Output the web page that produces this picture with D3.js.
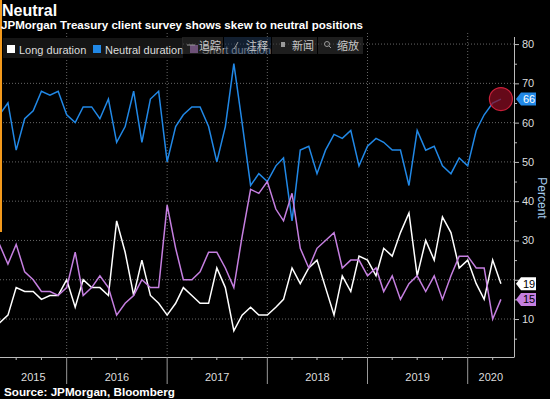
<!DOCTYPE html>
<html>
<head>
<meta charset="utf-8">
<script src="https://cdn.jsdelivr.net/npm/d3@7"></script>
<style>
  body { margin: 0; background: #000; }
  svg { display: block; }
</style>
</head>
<body>
<div id="chart"></div>
<script>
// monthly survey readings, May 2015 - May 2020 (percent)
var startMonth = new Date(2015, 4, 1);
var longDur = [9, 11, 18, 17, 17, 15, 16, 16, 20, 13, 20, 18, 18, 16, 35, 27, 16, 25, 16, 14, 11,
  14, 18, 16, 14, 14, 23, 18, 7, 11, 13, 11, 11, 13, 15, 23, 19, 23, 25, 18, 11, 21,
  17, 26, 25, 21, 28, 26, 32, 37, 21, 30, 25, 36, 32, 23, 25, 19, 15, 25, 19];
var neutralDur = [62, 65, 53, 61, 63, 68, 67, 68, 62, 60, 64, 64, 61, 66, 55, 59, 68, 55, 66, 68, 50,
  59, 62, 64, 64, 59, 50, 59, 75, 60, 44, 47, 45, 49, 51, 35, 53, 54, 47, 53, 57, 56,
  58, 49, 54, 56, 55, 53, 53, 44, 58, 53, 54, 49, 47, 51, 49, 58, 62, 65, 66];
var shortDur = [29, 24, 29, 22, 20, 17, 17, 16, 18, 27, 16, 18, 21, 18, 11, 14, 16, 20, 18, 18, 39,
  28, 20, 20, 22, 27, 27, 23, 18, 31, 43, 42, 45, 38, 35, 42, 28, 23, 28, 30, 32, 23,
  25, 25, 21, 23, 17, 21, 15, 19, 21, 17, 21, 15, 21, 26, 26, 23, 23, 10, 15];
var seriesNames = ['Long duration', 'Neutral duration', 'Short duration'];
var seriesColors = ['#ffffff', '#2188e6', '#c57fe0'];
var tagText = ['#000', '#fff', '#000'];
var yearLabels = ['2015', '2016', '2017', '2018', '2019', '2020'];
var yTicks = [10, 20, 30, 40, 50, 60, 70, 80];
var toolbarLabels = ['追踪', '注释', '新闻', '缩放'];

var W = 550, H = 399;
var plot = {left: 0, right: 514, top: 37, bottom: 357};
var font = "'Liberation Sans', Arial, sans-serif";

var svg = d3.select('#chart').append('svg')
  .attr('width', W).attr('height', H)
  .style('background', '#000');

var months = d3.range(longDur.length).map(function(i) { return d3.timeMonth.offset(startMonth, i); });

var x = d3.scaleTime()
  .domain([new Date(2015, 0, 1), new Date(2020, 0, 1)])
  .range([-33.5, 467.7]);
var y = d3.scaleLinear()
  .domain([0, 81.8])
  .range([358.3, plot.top]);

// gridlines
svg.append('g').selectAll('line.h')
  .data(yTicks).enter().append('line')
  .attr('x1', plot.left).attr('x2', plot.right)
  .attr('y1', function(d) { return y(d); }).attr('y2', function(d) { return y(d); })
  .attr('stroke', '#666').attr('stroke-dasharray', '1,2');

var yearStarts = yearLabels.slice(1).map(function(s) { return new Date(+s, 0, 1); });
svg.append('g').selectAll('line.v')
  .data(yearStarts).enter().append('line')
  .attr('x1', function(d) { return x(d); }).attr('x2', function(d) { return x(d); })
  .attr('y1', 33).attr('y2', plot.bottom)
  .attr('stroke', '#666').attr('stroke-dasharray', '1,2');

// lines
svg.append('clipPath').attr('id', 'clip')
  .append('rect').attr('x', 0).attr('y', 0).attr('width', plot.right).attr('height', plot.bottom);

var line = d3.line()
  .x(function(d, i) { return x(months[i]); })
  .y(function(d) { return y(d); });

var allSeries = [longDur, neutralDur, shortDur];
svg.append('g').attr('clip-path', 'url(#clip)')
  .selectAll('path').data(allSeries).enter().append('path')
  .attr('d', line)
  .attr('fill', 'none')
  .attr('stroke', function(d, i) { return seriesColors[i]; })
  .attr('stroke-width', 1.5);

// highlight circle on last neutral value
var lastI = months.length - 1;
svg.append('circle')
  .attr('cx', x(months[lastI])).attr('cy', y(neutralDur[lastI]))
  .attr('r', 11.5)
  .attr('fill', 'rgba(140,12,35,0.72)')
  .attr('stroke', '#c8203a').attr('stroke-width', 1.2);

// right axis (labels hidden where a value tag sits on them)
var tagYs = allSeries.map(function(s) { return y(s[lastI]); });
var yAxis = svg.append('g')
  .attr('transform', 'translate(' + plot.right + ',0)')
  .call(d3.axisRight(y).tickValues(yTicks).tickSize(5).tickPadding(3));
var yMinor = svg.append('g')
  .attr('transform', 'translate(' + plot.right + ',0)')
  .call(d3.axisRight(y).tickValues([5, 15, 25, 35, 45, 55, 65, 75]).tickSize(3).tickFormat(''));
[yAxis, yMinor].forEach(function(g) {
  g.select('.domain').attr('stroke', '#bbb').attr('d', 'M0.5,' + plot.top + 'V' + plot.bottom);
  g.selectAll('line').attr('stroke', '#bbb');
  g.selectAll('text').attr('fill', '#ddd').style('font-family', font).style('font-size', '11px');
});
yAxis.selectAll('.tick').filter(function(d) {
  return tagYs.some(function(t) { return Math.abs(t - y(d)) < 11; });
}).select('text').remove();

svg.append('text')
  .attr('transform', 'translate(538,198) rotate(90)')
  .attr('text-anchor', 'middle')
  .attr('fill', '#a6cdee')
  .style('font-family', font).style('font-size', '12px')
  .text('Percent');

// bottom axis
svg.append('line')
  .attr('x1', 0).attr('x2', plot.right + 0.5)
  .attr('y1', plot.bottom + 0.5).attr('y2', plot.bottom + 0.5)
  .attr('stroke', '#bbb');
var quarters = d3.timeMonth.every(3).range(new Date(2015, 0, 1), new Date(2020, 6, 1))
  .filter(function(d) { return d.getMonth() !== 0 && x(d) > 0 && x(d) < plot.right; });
svg.append('g').selectAll('line').data(quarters).enter().append('line')
  .attr('x1', function(d) { return x(d); }).attr('x2', function(d) { return x(d); })
  .attr('y1', plot.bottom).attr('y2', plot.bottom + 3)
  .attr('stroke', '#bbb');
svg.append('g').selectAll('line').data(yearStarts).enter().append('line')
  .attr('x1', function(d) { return x(d); }).attr('x2', function(d) { return x(d); })
  .attr('y1', plot.bottom).attr('y2', 384)
  .attr('stroke', '#999');
svg.append('g').selectAll('text').data(yearLabels).enter().append('text')
  .attr('x', function(d) {
    var a = Math.max(0, x(new Date(+d, 0, 1)));
    var b = Math.min(plot.right, x(new Date(+d + 1, 0, 1)));
    return (a + b) / 2;
  })
  .attr('y', 381)
  .attr('text-anchor', 'middle')
  .attr('fill', '#ddd')
  .style('font-family', font).style('font-size', '11px')
  .text(function(d) { return d; });

// last value tags
allSeries.forEach(function(s, i) {
  var v = s[lastI], yc = y(v), x0 = plot.right + 2;
  svg.append('path')
    .attr('d', 'M' + x0 + ',' + yc + 'L' + (x0 + 5) + ',' + (yc - 6.5) + 'H' + (x0 + 20) +
      'V' + (yc + 6.5) + 'H' + (x0 + 5) + 'Z')
    .attr('fill', seriesColors[i]);
  svg.append('text')
    .attr('x', x0 + 13).attr('y', yc + 4)
    .attr('text-anchor', 'middle')
    .attr('fill', tagText[i])
    .style('font-family', font).style('font-size', '11px')
    .text(v);
});

// orange edge marker
svg.append('rect').attr('x', 0).attr('y', 0).attr('width', 2).attr('height', 232).attr('fill', '#f39a1c');

// titles
svg.append('text').attr('x', 2).attr('y', 16)
  .attr('fill', '#fff').style('font-family', font).style('font-size', '16px').style('font-weight', 'bold')
  .text('Neutral');
svg.append('text').attr('x', 1).attr('y', 29)
  .attr('fill', '#fff').style('font-family', font).style('font-size', '11px').style('font-weight', 'bold')
  .attr('textLength', 362).attr('lengthAdjust', 'spacingAndGlyphs')
  .text('JPMorgan Treasury client survey shows skew to neutral positions');
svg.append('text').attr('x', 4).attr('y', 396)
  .attr('fill', '#fff').style('font-family', font).style('font-size', '11px').style('font-weight', 'bold')
  .attr('textLength', 171).attr('lengthAdjust', 'spacingAndGlyphs')
  .text('Source: JPMorgan, Bloomberg');

// legend
svg.append('rect').attr('x', 3).attr('y', 38).attr('width', 180).attr('height', 20).attr('fill', '#151515');
var legendX = [7, 93, 190];
seriesNames.forEach(function(n, i) {
  svg.append('rect').attr('x', legendX[i]).attr('y', 45).attr('width', 8).attr('height', 8)
    .attr('fill', seriesColors[i]);
  svg.append('text').attr('x', legendX[i] + 12).attr('y', 54)
    .attr('fill', '#ddd').style('font-family', font).style('font-size', '11px')
    .text(n);
});

// toolbar overlay (semi-transparent, legend shows through)
var tbX = [182, 224, 272, 318], tbW = [41, 47, 45, 45], tbTx = [199, 246, 292, 337];
toolbarLabels.forEach(function(t, i) {
  svg.append('rect').attr('x', tbX[i]).attr('y', 37).attr('width', tbW[i]).attr('height', 17)
    .attr('fill', i === 1 ? 'rgba(30,52,80,0.6)' : 'rgba(50,50,50,0.6)');
  svg.append('text').attr('x', tbX[i] + 1).attr('y', 50).text('')
  svg.append('text').attr('x', tbTx[i]).attr('y', 50)
    .attr('fill', '#c8c8c8')
    .style('font-family', "'Noto Sans CJK SC', sans-serif").style('font-size', '11px')
    .text(t);
});
svg.append('rect').attr('x', 281).attr('y', 42).attr('width', 4).attr('height', 5).attr('fill', '#999');
svg.append('circle').attr('cx', 327).attr('cy', 44).attr('r', 2.5).attr('fill', 'none').attr('stroke', '#999');
svg.append('line').attr('x1', 331).attr('y1', 48).attr('x2', 329).attr('y2', 46).attr('stroke', '#999');
svg.append('line').attr('x1', 234).attr('y1', 49).attr('x2', 238).attr('y2', 42).attr('stroke', '#999');
svg.append('line').attr('x1', 187).attr('y1', 45).attr('x2', 195).attr('y2', 45).attr('stroke', '#999');
</script>
</body>
</html>
